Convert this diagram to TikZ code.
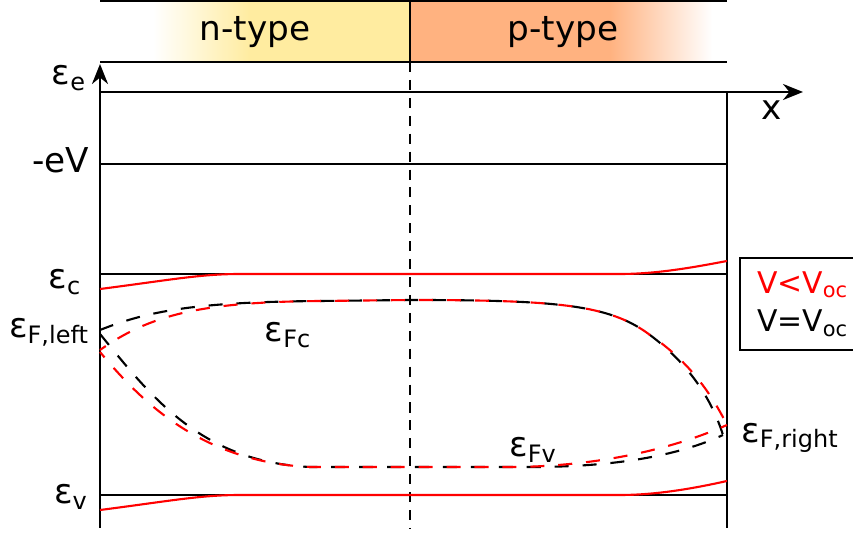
\documentclass[tikz,border=0pt]{standalone}
\usepackage{fontspec}
\setmainfont{DejaVu Sans}
\usetikzlibrary{arrows.meta, positioning}
\definecolor{ntype}{RGB}{255,236,160}
\definecolor{ptype}{RGB}{255,178,128}

\begin{document}
\begin{tikzpicture}[x=0.02cm, y=-0.02cm, font=\fontsize{19.5}{22}\selectfont,
    >={Stealth[length=4mm, width=3.2mm, inset=1.3mm]},
    level/.style={line width=1.2pt},
    redlevel/.style={line width=1.2pt, red},
    fermi/.style={line width=1.2pt, dash pattern=on 8pt off 7.9pt},
    redfermi/.style={fermi, red, dash phase=4pt},
    lbl/.style={inner sep=0pt}]
    \useasboundingbox (0,0) rectangle (853,533);
    % doping bar
    \fill[left color=white, right color=ntype] (153,1) rectangle (250,62);
    \fill[ntype] (250,1) rectangle (410,62);
    \fill[ptype] (410,1) rectangle (610,62);
    \fill[left color=ptype, right color=white] (610,1) rectangle (712,62);
    \draw[level] (100,1) -- (727,1) (100,62) -- (727,62) (410,1) -- (410,62);
    \node[lbl] (ntype) at (255,32) {n-type};
    \node[lbl] (ptype) at (563,32) {p-type};
    % axes
    \draw[line width=1.5pt, ->] (100,528) -- (100,64);
    \draw[line width=1.5pt, ->] (100,92) -- (803,92);
    \draw[level] (727,92) -- (727,528);
    \draw[level, dash pattern=on 5.7pt off 4.5pt] (410,62) -- (410,528);
    % band levels
    \draw[level] (100,164) -- (727,164);
    \draw[level] (100,274) -- (727,274);
    \draw[level] (100,495) -- (727,495);
    \draw[redlevel] (100,289) .. controls (170,280) and (200,274) .. (240,274) -- (620,274)
        .. controls (660,274) and (700,266) .. (727,261);
    \draw[redlevel] (100,510) .. controls (170,501) and (200,495) .. (240,495) -- (620,495)
        .. controls (660,495) and (700,487) .. (727,481);
    % quasi-Fermi levels, V = Voc
    \draw[fermi] (100,330) .. controls (150,310) and (200,302) .. (320,301) -- (410,300)
        .. controls (560,300) and (610,305) .. (650,335) .. controls (690,365) and (712,400) .. (723,435);
    \draw[fermi] (100,334) .. controls (150,395) and (200,462) .. (310,467) -- (540,467)
        .. controls (620,466) and (680,455) .. (723,435);
    % quasi-Fermi levels, V < Voc
    \draw[redfermi] (100,350) .. controls (150,315) and (200,302) .. (320,301) -- (410,300)
        .. controls (560,300) and (610,305) .. (650,335) .. controls (690,362) and (712,395) .. (727,425);
    \draw[redfermi] (100,352) .. controls (140,400) and (200,462) .. (310,467) -- (520,467)
        .. controls (600,465) and (670,450) .. (727,425);
    % labels
    \node[lbl] (ee) at (69,78) {ε\textsubscript{e}};
    \node[lbl] (ev) at (61,160) {-eV};
    \node[lbl] (ec) at (65,282) {ε\textsubscript{c}};
    \node[lbl] (efl) at (49,332) {ε\textsubscript{F,left}};
    \node[lbl] (evb) at (71,497) {ε\textsubscript{v}};
    \node[lbl] (efc) at (288,335) {ε\textsubscript{Fc}};
    \node[lbl] (efv) at (533,450) {ε\textsubscript{Fv}};
    \node[lbl] (efr) at (790,438) {ε\textsubscript{F,right}};
    \node[lbl] (x) at (772,110) {x};
    % legend
    \node[draw, line width=1.2pt, anchor=north west, minimum width=2.7cm, minimum height=1.84cm,
        inner xsep=0.34cm, align=left, text width=2.1cm, font=\fontsize{17}{22}\selectfont]
        (legend) at (739,257) {{\color{red}V<V\textsubscript{oc}}\\V=V\textsubscript{oc}};
\end{tikzpicture}
\end{document}
